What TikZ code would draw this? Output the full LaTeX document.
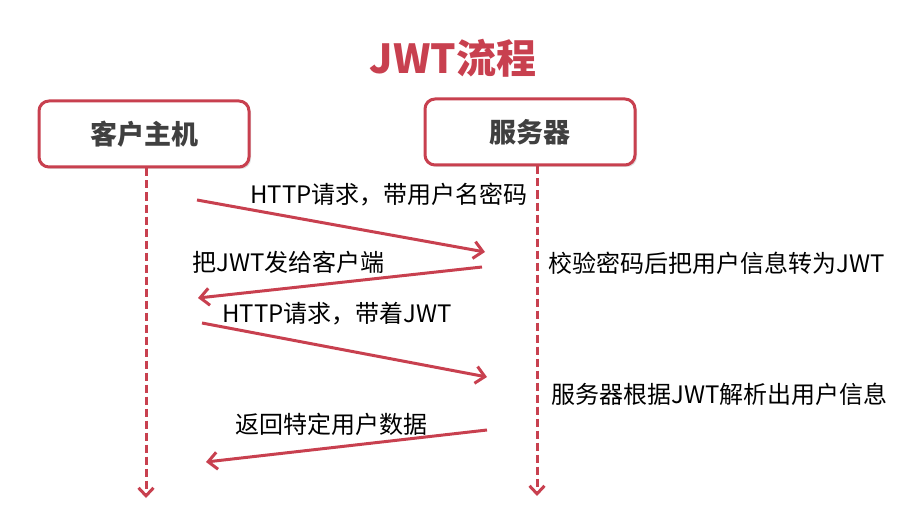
\documentclass[tikz,border=0pt]{standalone}
\usepackage{fontspec}
\setmainfont{Noto Sans CJK SC}
\usetikzlibrary{arrows.meta,shadows}

\definecolor{jwtred}{HTML}{C8404F}
\definecolor{boxgray}{HTML}{404040}

\tikzset{
  hostbox/.style={draw=jwtred, line width=3pt, rounded corners=10pt, fill=white,
    minimum width=210pt, minimum height=66pt, text=boxgray,
    font=\fontsize{27}{32}\selectfont\bfseries,
    drop shadow={opacity=0.25, shadow xshift=2pt, shadow yshift=-2pt}},
  msg/.style={draw=jwtred, line width=3pt, -{Straight Barb[length=9pt,width=17pt]}},
  life/.style={draw=jwtred, line width=3pt, dash pattern=on 8pt off 4pt,
    -{Straight Barb[length=8pt,width=15pt]}},
  note/.style={font=\fontsize{24}{28}\selectfont, inner sep=0pt, anchor=west},
}

\begin{document}
\begin{tikzpicture}[x=1pt, y=-1pt]
    \useasboundingbox (0,0) rectangle (908,508);

    \node[text=jwtred, font=\fontsize{40}{44}\selectfont\bfseries] (title) at (453,58) {JWT流程};

    \node[hostbox] (client) at (144,134) {客户主机};
    \node[hostbox] (server) at (530,132) {服务器};

    % lifelines
    \coordinate (cend) at (146,498);
    \coordinate (send) at (537,496);
    \draw[life] (client.south -| cend) -- (cend);
    \draw[life] (server.south -| send) -- (send);

    % messages
    \coordinate (m1a) at (197,200);
    \coordinate (m1b) at (485,252);
    \coordinate (m2a) at (482,267);
    \coordinate (m2b) at (198,298);
    \coordinate (m3a) at (202,323);
    \coordinate (m3b) at (487,377);
    \coordinate (m4a) at (487,430);
    \coordinate (m4b) at (206,462);

    \draw[msg] (m1a) -- (m1b);
    \draw[msg] (m2a) -- (m2b);
    \draw[msg] (m3a) -- (m3b);
    \draw[msg] (m4a) -- (m4b);

    \node[note] (l1) at (250,195) {HTTP请求，带用户名密码};
    \node[note] (l2) at (192,262) {把JWT发给客户端};
    \node[note] (l3) at (222,314) {HTTP请求，带着JWT};
    \node[note] (l4) at (235,424) {返回特定用户数据};

    \node[note] (n1) at (548,263) {校验密码后把用户信息转为JWT};
    \node[note] (n2) at (551,394) {服务器根据JWT解析出用户信息};
\end{tikzpicture}
\end{document}
